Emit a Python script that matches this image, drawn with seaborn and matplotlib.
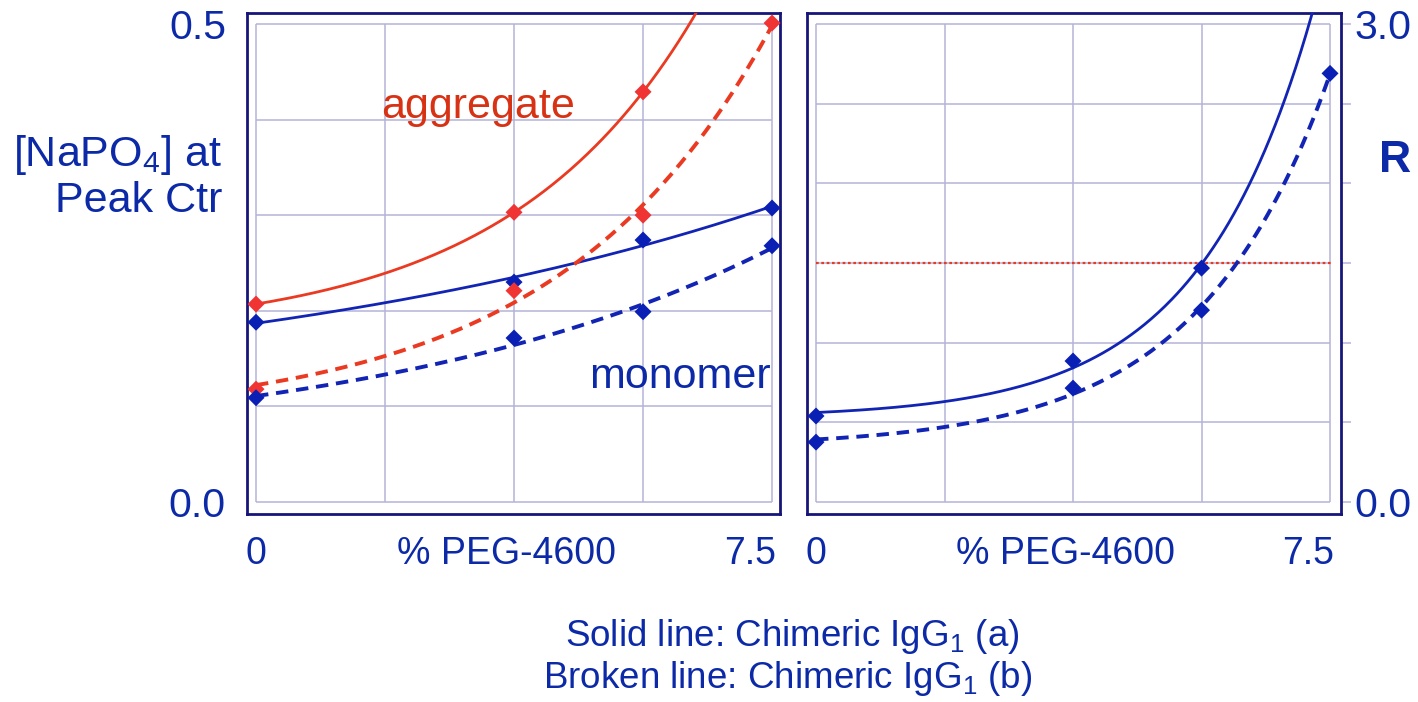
import numpy as np
import pandas as pd
import seaborn as sns
import matplotlib.pyplot as plt
from matplotlib.transforms import ScaledTranslation

# values (values above the axis top are only used for the fit)
peg = [0, 3.75, 5.625, 7.5]
agg_a = [0.207, 0.303, 0.429]
agg_b = [0.118, 0.221, 0.300, 0.501]
mono_a = [0.188, 0.230, 0.274, 0.3075]
mono_b = [0.109, 0.1715, 0.199, 0.268]
ratio_a = [0.54, 0.885, 1.468, 3.5]
ratio_b = [0.376, 0.715, 1.204, 2.69]
ratio_cut = 1.5

x_ticks = [0, 1.875, 3.75, 5.625, 7.5]
x_labels = ['0', '', '% PEG-4600', '', '7.5']
y1_ticks = [0, 0.1, 0.2, 0.3, 0.4, 0.5]
y1_labels = ['0.0', '', '', '', '', '0.5']
y2_ticks = [0, 0.5, 1.0, 1.5, 2.0, 2.5, 3.0]
y2_labels = ['0.0', '', '', '', '', '', '3.0']

BLUE = '#0c2aa8'
RED_TXT = '#d83214'
RED = '#ea3a22'
RED_MK = '#f03434'
BLUE_LN = '#1224b4'
BLUE_MK = '#0a20b4'
FRAME = '#16167a'
GRID = '#b4b4d8'


def exp_fit(x, y):
    # y = a + b*exp(k*x), k by grid search, a/b by least squares
    x = np.asarray(x, float)
    y = np.asarray(y, float)
    best = None
    for k in np.linspace(0.01, 1.5, 1500):
        A = np.column_stack([np.ones_like(x), np.exp(k * x)])
        c = np.linalg.lstsq(A, y, rcond=None)[0]
        err = ((A @ c - y) ** 2).sum()
        if best is None or err < best[0]:
            best = (err, k, c)
    _, k, c = best
    xs = np.linspace(0, 7.5, 300)
    return xs, c[0] + c[1] * np.exp(k * xs)


def curve_df(series):
    rows = []
    for name, ys in series.items():
        xs, fit = exp_fit(peg[:len(ys)], ys)
        rows.append(pd.DataFrame({'peg': xs, 'value': fit, 'series': name}))
    return pd.concat(rows, ignore_index=True)


def point_df(series, top):
    rows = []
    for name, ys in series.items():
        rows.append(pd.DataFrame({'peg': peg[:len(ys)], 'value': ys, 'series': name}))
    df = pd.concat(rows, ignore_index=True)
    return df[df['value'] <= top]


sns.set_style('white')
plt.rcParams['font.family'] = ['Liberation Sans', 'DejaVu Sans']
plt.rcParams['mathtext.fontset'] = 'custom'
plt.rcParams['mathtext.rm'] = 'Liberation Sans'
plt.rcParams['mathtext.it'] = 'Liberation Sans'

fig = plt.figure(figsize=(14.18, 7.02), dpi=100)
ax1 = fig.add_axes([0.174, 0.2678, 0.3761, 0.7137])
ax2 = fig.add_axes([0.5689, 0.2678, 0.3766, 0.7137])

line_pal = {'agg': RED, 'mono': BLUE_LN, 'ratio': BLUE_LN}
mk_pal = {'agg': RED_MK, 'mono': BLUE_MK, 'ratio': BLUE_MK}

panels = [
    (ax1, {'agg': agg_a, 'mono': mono_a}, {'agg': agg_b, 'mono': mono_b}, 0.51),
    (ax2, {'ratio': ratio_a}, {'ratio': ratio_b}, 3.05),
]

for ax, solid, broken, top in panels:
    sns.lineplot(data=curve_df(solid), x='peg', y='value', hue='series',
                 palette=line_pal, estimator=None, sort=False, linewidth=2.0,
                 legend=False, ax=ax, zorder=3)
    sns.lineplot(data=curve_df(broken), x='peg', y='value', hue='series',
                 palette=line_pal, estimator=None, sort=False, linewidth=2.8,
                 linestyle=(0, (3.2, 2.0)), legend=False, ax=ax, zorder=3)
    pts = pd.concat([point_df(solid, top), point_df(broken, top)], ignore_index=True)
    sns.scatterplot(data=pts, x='peg', y='value', hue='series', palette=mk_pal,
                    marker='D', s=75, linewidth=0, legend=False, ax=ax,
                    clip_on=False, zorder=5)

ax2.hlines(ratio_cut, 0, 7.55, color=RED, linewidth=1.6,
           linestyle=(0, (1.2, 1.2)), zorder=2)

# axes limits, grid and ticks
ax1.set_xlim(-0.135, 7.616)
ax1.set_ylim(-0.0126, 0.5115)
ax2.set_xlim(-0.136, 7.656)
ax2.set_ylim(-0.075, 3.069)

for ax, yt, yl in [(ax1, y1_ticks, y1_labels), (ax2, y2_ticks, y2_labels)]:
    ax.hlines(yt, 0, 7.5, color=GRID, linewidth=1.1, zorder=0)
    ax.vlines(x_ticks, 0, yt[-1], color=GRID, linewidth=1.1, zorder=0)
    ax.set_xticks(x_ticks)
    ax.set_xticklabels(x_labels)
    ax.set_yticks(yt)
    ax.set_yticklabels(yl)
    ax.tick_params(direction='out', length=7, width=1.1, color=GRID,
                   labelcolor=BLUE, labelsize=27)
    ax.tick_params(axis='x', pad=9)
    ax.tick_params(axis='y', labelsize=29.5)
    ax.set_xlabel('')
    ax.set_ylabel('')
    for sp in ax.spines.values():
        sp.set_color(FRAME)
        sp.set_linewidth(2.0)
        sp.set_visible(True)

ax1.tick_params(axis='y', pad=8)
ax2.yaxis.tick_right()
ax2.tick_params(axis='y', pad=3)

# nudge the x tick labels the way the original slide has them
for ax in (ax1, ax2):
    for lbl in ax.get_xticklabels():
        if lbl.get_text() == '7.5':
            lbl.set_ha('right')
            lbl.set_transform(lbl.get_transform() +
                              ScaledTranslation(0.04, 0, fig.dpi_scale_trans))
        elif lbl.get_text() == '% PEG-4600':
            lbl.set_transform(lbl.get_transform() +
                              ScaledTranslation(-0.08, 0, fig.dpi_scale_trans))

ax1.text(3.23, 0.413, 'aggregate', color=RED_TXT, fontsize=31,
         ha='center', va='center')
ax1.text(6.16, 0.131, 'monomer', color=BLUE, fontsize=31,
         ha='center', va='center')

fig.text(222 / 1418, 1 - 177 / 702, '[NaPO$_4$] at\nPeak Ctr', color=BLUE,
         fontsize=31, ha='right', va='center', multialignment='right',
         linespacing=1.15)
fig.text(1395 / 1418, 1 - 160 / 702, 'R', color=BLUE, fontsize=32,
         fontweight='bold', ha='center', va='center')
fig.text(792 / 1418, 1 - 636 / 702, 'Solid line: Chimeric IgG$_1$ (a)',
         color=BLUE, fontsize=26.5, ha='center', va='center')
fig.text(788 / 1418, 1 - 678 / 702, 'Broken line: Chimeric IgG$_1$ (b)',
         color=BLUE, fontsize=26.5, ha='center', va='center')

fig.savefig('out.png', dpi=100)
